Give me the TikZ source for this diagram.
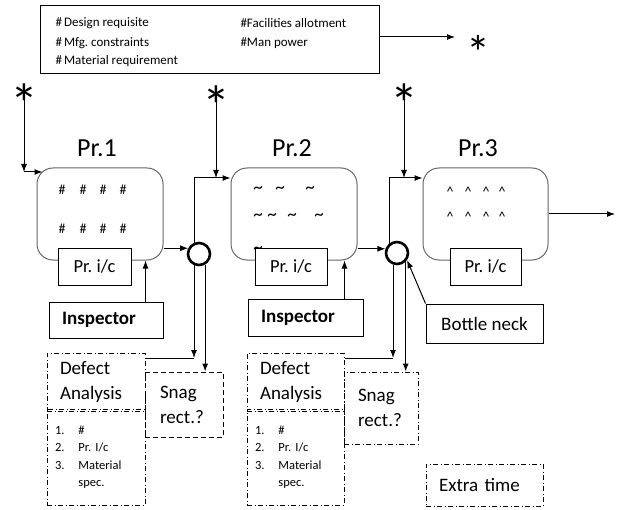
\documentclass[tikz,border=0pt]{standalone}
\usepackage{fontspec}
\setmainfont{Carlito}
\usetikzlibrary{arrows.meta}
\newcommand{\fs}[2]{\fontsize{#1}{#2}\selectfont}
\frenchspacing

\begin{document}
\begin{tikzpicture}[
            x = 1pt, y = -1pt, line width = 1pt,
            > = {Latex[length=8pt,width=6pt]},
            prc/.style = {draw=black!60, rounded corners=16pt, minimum width=126pt, minimum height=92pt},
            ic/.style = {draw, fill=white, minimum width=72pt, minimum height=37pt, inner sep=0pt, font=\fs{18.5}{22}},
            insp/.style = {draw, minimum width=115pt, minimum height=37pt, inner sep=0pt, inner xsep=13pt,
                           text width=89pt, align=left, font=\bfseries\fs{19}{23}},
            ddash/.style = {draw, dash pattern=on 5pt off 2.5pt on 1pt off 2.5pt},
            note/.style = {ddash, inner sep=0pt, align=left, font=\fs{19}{25}},
            joint/.style = {draw, circle, line width=2.6pt, minimum size=22pt, inner sep=0pt},
            astk/.style = {inner sep=0pt, anchor=north, font=\fs{56}{56}},
            hsh/.style = {inner sep=0pt, font=\fs{14}{14}},
            ttl/.style = {font=\fs{26}{28}},
            lst/.style = {anchor=west, inner sep=0pt, font=\fs{13}{15}},
          ]
        \useasboundingbox (0,0) rectangle (617,510);
        % requirements
        \node[draw, minimum width=339pt, minimum height=68pt, inner sep=0pt] (req) at (209.5,40) {};
        \node[lst] (r1) at (55,23) {\#\,Design requisite};
        \node[lst] (r2) at (55,43) {\#\,Mfg. constraints};
        \node[lst] (r3) at (55,61) {\#\,Material requirement};
        \node[lst] (r4) at (240,23) {\#Facilities allotment};
        \node[lst] (r5) at (240,43) {\#Man power};
        \coordinate (rq) at (455,37);
        \draw[->] (req.east |- rq) -- (rq);
        \node[astk, font=\fs{48}{48}] (s0) at (478,35) {*};
        % stars
        \node[astk] (s1) at (24,83) {*};
        \node[astk] (s2) at (216,85) {*};
        \node[astk] (s3) at (404,83) {*};
        % processes
        \node[prc] (p1) at (100,214) {};
        \node[ttl] (t1) at (97,148) {Pr.1};
        \node[prc] (p2) at (294,214) {};
        \node[ttl] (t2) at (292,148) {Pr.2};
        \node[prc, minimum width=125pt] (p3) at (485.5,214) {};
        \node[ttl] (t3) at (478,148) {Pr.3};
        \foreach \x in {62,83,103,123}
          \foreach \y in {190,229}
            \node[hsh] (h-\x-\y) at (\x,\y) {\#};
        \foreach \x/\y in {258/190, 280/190, 310/190, 258/217, 272/217, 292/217, 319/217, 258/250}
          \node[hsh, font=\fs{19}{19}] (w-\x-\y) at (\x,\y) {\textasciitilde};
        \foreach \x in {450,468,486,502}
          \foreach \y in {192,217}
            \node[hsh] (v-\x-\y) at (\x,\y) {\textasciicircum};
        \node[ic, minimum width=73pt] (c1) at (94.5,266.5) {Pr. i/c};
        \node[ic] (c2) at (291,266.5) {Pr. i/c};
        \node[ic, minimum width=71pt] (c3) at (485.5,266.5) {Pr. i/c};
        % inspectors
        \node[insp, minimum width=114pt, minimum height=36pt, text width=88pt] (i1) at (106,320) {Inspector};
        \node[insp] (i2) at (305.5,318) {Inspector};
        % bottle necks
        \node[joint] (q1) at (199,254) {};
        \node[joint] (q2) at (397,253) {};
        \node[draw, minimum width=117pt, minimum height=39pt, inner sep=0pt, font=\fs{19}{23}] (bn) at (484.5,323.5) {Bottle neck};
        % defect analysis
        \node[note, minimum width=98pt, minimum height=58pt, text width=72pt, inner xsep=13pt] (d1) at (96,382) {Defect\\Analysis};
        \node[note, minimum width=98pt, minimum height=96pt, text width=82pt, inner xsep=8pt, font=\fs{12.5}{17.5}] (l1) at (96,457)
          {\begin{tabular}{@{}l@{\hspace{14pt}}l@{}}1.&\#\\2.&Pr. I/c\\3.&Material\\&spec.\end{tabular}};
        \node[note, dash pattern=on 5pt off 3pt, minimum width=78pt, minimum height=65pt, text width=48pt, inner xsep=15pt] (n1) at (184,404.5) {Snag\\rect.?};
        \node[note, minimum width=97pt, minimum height=58pt, text width=71pt, inner xsep=13pt] (d2) at (295.5,382) {Defect\\Analysis};
        \node[note, minimum width=97pt, minimum height=96pt, text width=81pt, inner xsep=8pt, font=\fs{12.5}{17.5}] (l2) at (295.5,457)
          {\begin{tabular}{@{}l@{\hspace{14pt}}l@{}}1.&\#\\2.&Pr. I/c\\3.&Material\\&spec.\end{tabular}};
        \node[note, minimum width=74pt, minimum height=72pt, text width=46pt, inner xsep=14pt] (n2) at (381,408) {Snag\\rect.?};
        \node[note, minimum width=117pt, minimum height=42pt, text width=91pt, inner xsep=13pt] (et) at (484.5,485) {Extra time};
        % connectors
        \coordinate (a1) at (24,172);
        \draw[->] ([yshift=-9pt]s1.north) -- (a1);
        \draw[->] (a1) -- ([xshift=6pt]a1 -| p1.west);
        \draw[->] (q1.152 -| p1.east) -- (q1.152);
        \coordinate (j1) at (194,178);
        \draw[->] (j1 |- q1.113) -- (j1) -- (j1 -| p2.west);
        \draw[->] ([yshift=-9pt]s2.north) -- (s2 |- j1);
        \coordinate (k1) at (194,358);
        \draw[->] (k1 |- q1.247) -- (k1);
        \draw (k1) -- (k1 -| d1.east);
        \draw[->] (q1.300) -- (q1.300 |- n1.north);
        \draw[->] (q2.160 -| p2.east) -- (q2.160);
        \coordinate (j2) at (389,178);
        \draw[->] (j2 |- q2.130) -- (j2) -- (j2 -| p3.west);
        \draw[->] ([yshift=-9pt]s3.north) -- (s3 |- j2);
        \coordinate (k2) at (393,358);
        \draw[->] (k2 |- q2.250) -- (k2);
        \draw (k2) -- (k2 -| d2.east);
        \draw[->] (q2.315) -- (q2.315 |- n2.north);
        \coordinate (out) at (615,214);
        \draw[->] (p3.east) -- (out);
        \draw[->] (bn.north west) -- (q2.325);
        \draw[->] ([xshift=-18pt]i1.north east) -- ([xshift=-18pt]i1.north east |- p1.south);
        \draw[->] ([xshift=-19pt]i2.north east) -- ([xshift=-19pt]i2.north east |- p2.south);
        \end{tikzpicture}
\end{document}
